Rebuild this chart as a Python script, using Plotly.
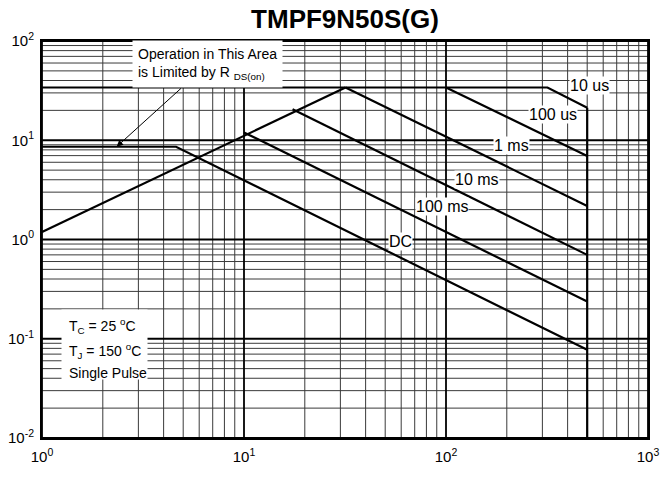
import numpy as np
import plotly.graph_objects as go

# ---- data (V_DS in volts, I_D in amps) ----
rds_v = [1, 31.8]
rds_i = [1.19, 34]
us10_v = [1, 318, 500]
us10_i = [34, 34, 21.3]
us100_v = [100, 500]
us100_i = [34, 6.95]
ms1_v = [31.8, 500]
ms1_i = [34, 2.18]
ms10_v = [17.4, 500]
ms10_i = [20.5, 0.70]
ms100_v = [10, 500]
ms100_i = [12.0, 0.237]
dc_v = [1, 4.61, 500]
dc_i = [8.6, 8.6, 0.0773]
vdss_v = [500, 500]
vdss_i = [0.01, 21.3]

curve_labels = ["10 us", "100 us", "1 ms", "10 ms", "100 ms", "DC"]
label_v = [516, 337, 210, 141.6, 96, 59.8]
label_i = [35.5, 18.0, 8.77, 3.98, 2.14, 0.953]

cond_lines = ["T<sub>C</sub> = 25 <sup>o</sup>C", "T<sub>J</sub> = 150 <sup>o</sup>C", "Single Pulse"]
cond_i = [0.1346, 0.0745, 0.0456]

x_tickvals = [1, 10, 100, 1000]
x_ticktext = ["10<sup>0</sup>", "10<sup>1</sup>", "10<sup>2</sup>", "10<sup>3</sup>"]
y_tickvals = [0.01, 0.1, 1, 10, 100]
y_ticktext = ["10<sup>-2</sup>", "10<sup>-1</sup>", "10<sup>0</sup>", "10<sup>1</sup>", "10<sup>2</sup>"]

FONT = "Arial, Liberation Sans, sans-serif"
X_MIN, X_MAX = 1, 1000
Y_MIN, Y_MAX = 0.01, 100

fig = go.Figure()

# ---- log grid (minor then major) ----
def grid_vals(lo, hi, major):
    out = []
    d = lo
    while d < hi:
        for k in range(1, 10):
            v = k * d
            if (k == 1) == major and lo <= v <= hi:
                out.append(v)
        d *= 10
    if major:
        out.append(hi)
    return out

for major in (False, True):
    gx, gy = [], []
    for v in grid_vals(X_MIN, X_MAX, major):
        gx += [v, v, None]
        gy += [Y_MIN, Y_MAX, None]
    for v in grid_vals(Y_MIN, Y_MAX, major):
        gx += [X_MIN, X_MAX, None]
        gy += [v, v, None]
    fig.add_trace(go.Scatter(x=gx, y=gy, mode="lines",
                             line=dict(color="black" if major else "#3a3a3a",
                                       width=1.8 if major else 1),
                             showlegend=False, hoverinfo="skip"))

series = [(rds_v, rds_i), (us10_v, us10_i), (us100_v, us100_i), (ms1_v, ms1_i),
          (ms10_v, ms10_i), (ms100_v, ms100_i), (dc_v, dc_i), (vdss_v, vdss_i)]
for xs, ys in series:
    fig.add_trace(go.Scatter(x=xs, y=ys, mode="lines",
                             line=dict(color="black", width=2.2),
                             showlegend=False, hoverinfo="skip"))

annotations = []
for t, xv, yv in zip(curve_labels, label_v, label_i):
    annotations.append(dict(x=np.log10(xv), y=np.log10(yv), xref="x", yref="y",
                            text=t, showarrow=False, bgcolor="white",
                            borderpad=0, font=dict(family=FONT, size=16, color="black")))

# Rds(on) note box
annotations.append(dict(x=np.log10(6.56), y=np.log10(58.1), xref="x", yref="y",
                        text="Operation in This Area<br>is Limited by R <sub>DS(on)</sub>",
                        align="left", showarrow=False, bgcolor="white", borderpad=5,
                        font=dict(family=FONT, size=14, color="black")))
# arrow pointing to the DC limit
annotations.append(dict(x=np.log10(2.34), y=np.log10(dc_i[0]), xref="x", yref="y",
                        ax=np.log10(4.96), ay=np.log10(34.4), axref="x", ayref="y",
                        text="", showarrow=True, arrowhead=2, arrowsize=1.3,
                        arrowwidth=1, arrowcolor="black"))
# conditions box: white background, then three lines
annotations.append(dict(x=np.log10(2.03), y=np.log10(0.088), xref="x", yref="y",
                        text=" ", width=85, height=69, showarrow=False,
                        bgcolor="white", borderpad=0))
for t, yv in zip(cond_lines, cond_i):
    annotations.append(dict(x=np.log10(1.337), y=np.log10(yv), xref="x", yref="y",
                            text=t, xanchor="left", showarrow=False,
                            font=dict(family=FONT, size=14, color="black")))

axis_common = dict(type="log", showline=True, linecolor="black", linewidth=2, mirror=True,
                   showgrid=False, zeroline=False, automargin=False,
                   ticks="", tickfont=dict(family=FONT, size=15, color="black"))

fig.update_xaxes(range=[0, 3], tickvals=x_tickvals, ticktext=x_ticktext,
                 ticklabelstandoff=4, **axis_common)
fig.update_yaxes(range=[-2, 2], tickvals=y_tickvals, ticktext=y_ticktext,
                 ticklabelstandoff=3, **axis_common)

fig.update_layout(
    width=662, height=485,
    margin=dict(l=42, r=14, t=41, b=47, autoexpand=False),
    paper_bgcolor="white", plot_bgcolor="white",
    title=dict(text="<b>TMPF9N50S(G)</b>", x=0.5, xref="paper", y=1 - 19 / 485,
               yanchor="middle", font=dict(family=FONT, size=26, color="black")),
    annotations=annotations,
)

fig.write_html("out.html", config={"displayModeBar": False},
               post_script="document.body.style.margin='0';document.body.style.overflow='hidden';")
